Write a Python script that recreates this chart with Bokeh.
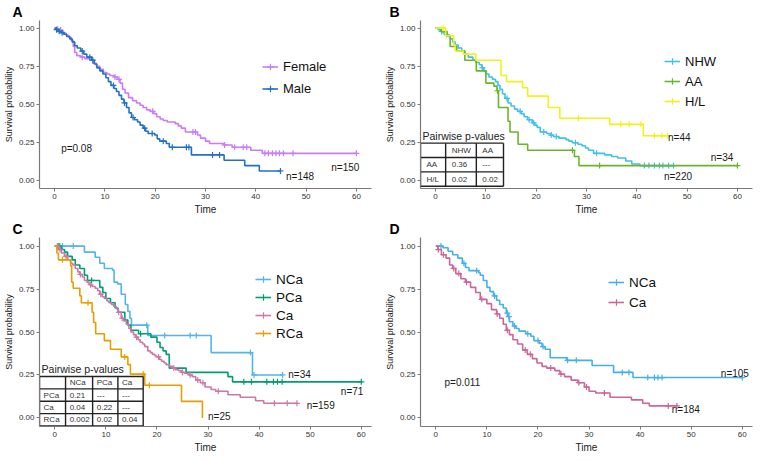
import numpy as np
from bokeh.plotting import figure
from bokeh.layouts import gridplot
from bokeh.models import Range1d, Legend, LegendItem, NumeralTickFormatter
from bokeh.embed import file_html
from bokeh.resources import INLINE
from bokeh.core.properties import value

FONT = "Liberation Sans"

# ---------------- data ----------------
x_ticks = [0, 10, 20, 30, 40, 50, 60]
y_ticks = [0.0, 0.25, 0.5, 0.75, 1.0]
x_title = "Time"
y_title = "Survival probability"
table_title = "Pairwise p-values"

# Panel A (sex)
a_names = ["Female", "Male"]
a_n = ["n=150", "n=148"]
a_p = "p=0.08"
a_female_t = [0, 0.4, 0.8, 1.3, 1.8, 2.3, 2.8, 3.3, 3.7, 4.0, 4.4, 5.2, 6.0, 7.0, 7.6, 8.3, 9.0, 9.7, 10.4, 11.0,
              11.8, 12.5, 13.0, 13.5, 14.0, 14.7, 15.5, 16.3, 17.0, 17.6, 18.3, 19.0, 19.7, 20.3, 21.0, 21.6, 22.4,
              24.0, 24.6, 25.2, 26.0, 28.4, 29.0, 30.0, 30.8, 33.6, 35.3, 39.0, 41.3]
a_female_s = [1.0, 0.993, 0.987, 0.98, 0.967, 0.953, 0.94, 0.92, 0.88, 0.84, 0.82, 0.81, 0.80, 0.79, 0.77, 0.75,
              0.73, 0.71, 0.70, 0.69, 0.68, 0.665, 0.64, 0.60, 0.575, 0.545, 0.525, 0.51, 0.495, 0.48, 0.465, 0.455,
              0.44, 0.42, 0.405, 0.395, 0.385, 0.375, 0.36, 0.345, 0.32, 0.30, 0.28, 0.26, 0.245, 0.235, 0.22, 0.20,
              0.18]
a_female_end = 60.0
a_female_cens = [0.6, 1.2, 5.5, 12.0, 12.8, 19.5, 27.5, 28.0, 33.8, 35.8, 37.5, 38.2, 41.8, 42.5, 43.3, 44.0,
                 44.7, 45.5, 47.4, 60.0]
a_male_t = [0, 0.3, 0.7, 1.2, 1.8, 2.4, 3.0, 3.5, 4.0, 4.5, 5.2, 5.8, 6.4, 7.4, 7.9, 8.4, 9.0, 9.6, 10.2, 10.7,
            11.2, 11.8, 12.3, 12.8, 13.3, 13.8, 14.3, 14.8, 15.3, 15.9, 16.5, 17.0, 17.6, 18.1, 18.6, 19.9, 20.4,
            20.9, 22.2, 22.8, 27.2, 33.7, 37.8, 40.7]
a_male_s = [1.0, 0.99, 0.98, 0.97, 0.96, 0.945, 0.93, 0.91, 0.885, 0.87, 0.85, 0.83, 0.81, 0.79, 0.765, 0.74, 0.72,
            0.70, 0.675, 0.65, 0.625, 0.605, 0.585, 0.56, 0.535, 0.51, 0.48, 0.445, 0.415, 0.40, 0.385, 0.365,
            0.345, 0.325, 0.31, 0.30, 0.275, 0.26, 0.245, 0.22, 0.17, 0.135, 0.10, 0.065]
a_male_end = 44.9
a_male_cens = [0.4, 0.9, 1.5, 5.5, 7.0, 7.6, 11.7, 13.9, 15.6, 17.9, 19.4, 21.6, 23.4, 26.2, 26.7, 31.4, 32.8, 44.9]

# Panel B (ethnicity)
b_names = ["NHW", "AA", "H/L"]
b_n = ["n=44", "n=34", "n=220"]
b_nhw_t = [0, 0.5, 1.0, 1.5, 2.0, 2.5, 2.9, 3.4, 3.9, 4.5, 5.2, 5.8, 6.5, 7.4, 8.0, 8.7, 9.2, 9.6, 10.1, 10.6,
           11.3, 11.9, 12.4, 12.8, 13.3, 13.8, 14.4, 15.0, 15.7, 16.3, 17.0, 17.6, 18.3, 19.2, 19.7, 20.2, 20.8,
           22.1, 22.8, 23.4, 24.5, 25.9, 26.5, 27.2, 28.3, 29.1, 29.8, 30.4, 31.4, 33.6, 35.0, 36.2, 37.8, 39.0,
           40.6]
b_nhw_s = [1.0, 0.99, 0.978, 0.968, 0.958, 0.945, 0.93, 0.91, 0.89, 0.87, 0.85, 0.83, 0.81, 0.79, 0.775, 0.76,
           0.74, 0.72, 0.70, 0.68, 0.665, 0.65, 0.625, 0.60, 0.57, 0.54, 0.51, 0.49, 0.47, 0.455, 0.44, 0.42, 0.40,
           0.38, 0.365, 0.35, 0.32, 0.31, 0.30, 0.29, 0.28, 0.27, 0.26, 0.25, 0.24, 0.23, 0.215, 0.20, 0.18, 0.17,
           0.16, 0.15, 0.13, 0.11, 0.10]
b_nhw_end = 47.3
b_nhw_cens = [1.2, 2.2, 9.3, 14.2, 16.8, 18.6, 19.5, 21.5, 23.0, 24.0, 27.8, 32.0, 41.5, 42.4, 43.5, 44.5, 45.2,
              46.3, 47.3]
b_aa_t = [0, 1.0, 2.3, 2.9, 4.2, 5.8, 8.1, 10.0, 11.6, 12.2, 12.5, 14.4, 14.8, 16.4, 18.3, 27.6, 28.5]
b_aa_s = [1.0, 0.978, 0.95, 0.88, 0.85, 0.79, 0.72, 0.64, 0.62, 0.59, 0.48, 0.39, 0.32, 0.24, 0.20, 0.16, 0.10]
b_aa_end = 60.0
b_aa_cens = [12.3, 27.2, 32.6, 60.0]
b_hl_t = [0, 2.0, 3.6, 3.9, 5.5, 8.0, 13.0, 14.1, 17.3, 18.3, 22.4, 24.7, 34.6, 41.3]
b_hl_s = [1.0, 0.95, 0.89, 0.85, 0.83, 0.79, 0.69, 0.65, 0.61, 0.555, 0.48, 0.41, 0.37, 0.295]
b_hl_end = 46.1
b_hl_cens = [1.5, 28.4, 36.8, 38.5, 40.8, 43.5, 45.0, 46.1]
b_tab_cols = ["", "NHW", "AA"]
b_tab_rows = [["AA", "0.36", "---"], ["H/L", "0.02", "0.02"]]

# Panel C (cancer groups)
c_names = ["NCa", "PCa", "Ca", "RCa"]
c_n = ["n=34", "n=71", "n=159", "n=25"]
c_nca_t = [0, 5.8, 7.9, 8.8, 9.7, 11.3, 11.6, 12.3, 13.0, 13.8, 14.3, 14.7, 15.0, 18.2, 30.6, 38.7]
c_nca_s = [1.0, 0.965, 0.935, 0.90, 0.87, 0.86, 0.79, 0.78, 0.72, 0.66, 0.62, 0.58, 0.54, 0.48, 0.38, 0.25]
c_nca_end = 44.6
c_nca_cens = [1.0, 1.5, 3.6, 18.0, 21.5, 26.5, 27.7, 38.3, 39.0, 44.6]
c_pca_t = [0, 1.3, 1.9, 2.5, 3.4, 4.0, 4.9, 5.8, 6.4, 8.8, 9.4, 10.0, 10.9, 11.8, 12.4, 13.7, 14.3, 14.9, 16.4,
           18.8, 20.0, 20.6, 21.2, 21.8, 22.4, 25.7, 33.9, 34.8]
c_pca_s = [1.0, 0.98, 0.965, 0.94, 0.92, 0.89, 0.87, 0.83, 0.80, 0.76, 0.73, 0.695, 0.67, 0.64, 0.615, 0.57, 0.54,
           0.51, 0.49, 0.47, 0.44, 0.41, 0.39, 0.37, 0.29, 0.265, 0.24, 0.21]
c_pca_end = 60.0
c_pca_cens = [0.8, 7.2, 16.8, 37.0, 38.5, 41.5, 42.8, 43.6, 44.5, 60.0]
c_ca_t = [0, 0.7, 1.3, 1.9, 2.5, 3.1, 3.5, 4.0, 4.5, 4.9, 5.4, 5.8, 6.3, 6.7, 7.3, 7.9, 8.4, 8.8, 9.3, 9.7, 10.2,
          10.6, 11.1, 11.5, 12.0, 12.4, 13.0, 13.5, 14.0, 14.5, 14.9, 15.4, 15.8, 16.3, 16.7, 17.2, 17.6, 18.2,
          18.7, 19.1, 19.6, 20.0, 20.5, 20.9, 21.4, 21.8, 22.5, 23.0, 23.6, 24.2, 24.8, 25.4, 26.2, 26.9, 27.6,
          28.5, 29.4, 30.6, 31.5, 33.9, 36.3, 39.3, 40.9]
c_ca_s = [1.0, 0.98, 0.96, 0.94, 0.92, 0.90, 0.89, 0.87, 0.85, 0.835, 0.82, 0.80, 0.79, 0.775, 0.765, 0.755, 0.74,
          0.72, 0.705, 0.695, 0.68, 0.67, 0.66, 0.65, 0.635, 0.615, 0.58, 0.565, 0.545, 0.52, 0.50, 0.485, 0.47,
          0.455, 0.44, 0.43, 0.415, 0.39, 0.38, 0.37, 0.36, 0.355, 0.34, 0.33, 0.32, 0.31, 0.30, 0.29, 0.28, 0.275,
          0.265, 0.26, 0.25, 0.24, 0.22, 0.205, 0.18, 0.165, 0.155, 0.135, 0.12, 0.10, 0.085]
c_ca_end = 47.5
c_ca_cens = [0.5, 1.0, 2.2, 5.0, 7.0, 9.0, 12.5, 13.2, 16.0, 20.3, 23.3, 25.0, 26.5, 28.0, 29.0, 32.0, 43.0, 45.5,
             47.4]
c_rca_t = [0, 0.4, 0.7, 3.1, 3.3, 3.6, 4.9, 5.2, 7.3, 7.6, 8.0, 9.7, 10.9, 13.0, 14.3, 14.8, 17.6, 24.8, 28.9]
c_rca_s = [1.0, 0.96, 0.92, 0.885, 0.79, 0.755, 0.71, 0.67, 0.615, 0.555, 0.49, 0.45, 0.40, 0.355, 0.31, 0.255,
           0.19, 0.096, 0.0]
c_rca_end = 28.9
c_rca_cens = [1.5, 6.5, 13.7, 17.3, 18.5]
c_tab_cols = ["", "NCa", "PCa", "Ca"]
c_tab_rows = [["PCa", "0.21", "---", "---"], ["Ca", "0.04", "0.22", "---"], ["RCa", "0.002", "0.02", "0.04"]]

# Panel D (NCa vs Ca)
d_names = ["NCa", "Ca"]
d_n = ["n=105", "n=184"]
d_p = "p=0.011"
d_nca_t = [0, 1.4, 2.4, 3.3, 4.3, 5.2, 5.8, 6.5, 8.4, 8.7, 9.3, 10.0, 10.6, 11.3, 11.9, 12.5, 13.2, 13.8, 14.1,
           14.4, 15.1, 15.7, 16.3, 17.6, 18.6, 19.2, 20.2, 20.8, 21.4, 22.4, 25.6, 30.6, 34.8, 38.6]
d_nca_s = [1.0, 0.99, 0.97, 0.95, 0.93, 0.90, 0.875, 0.857, 0.845, 0.83, 0.80, 0.76, 0.735, 0.71, 0.685, 0.66,
           0.64, 0.61, 0.59, 0.56, 0.535, 0.52, 0.505, 0.49, 0.475, 0.45, 0.435, 0.415, 0.40, 0.35, 0.335, 0.305,
           0.265, 0.235]
d_nca_end = 60.0
d_nca_cens = [1.0, 5.5, 8.0, 11.5, 14.0, 14.3, 15.4, 18.0, 20.0, 21.0, 25.8, 27.5, 36.5, 37.8, 41.5, 42.8, 43.5,
              44.3, 60.0]
d_ca_t = [0, 0.4, 1.1, 2.0, 2.7, 3.3, 3.9, 4.9, 5.8, 6.8, 7.8, 8.7, 10.0, 10.9, 11.9, 12.5, 13.2, 13.8, 14.4,
          15.1, 16.0, 17.0, 17.9, 18.9, 19.8, 20.8, 21.7, 23.3, 24.3, 25.2, 26.5, 27.8, 29.1, 30.0, 31.3, 34.1,
          38.3, 40.5, 41.8]
d_ca_s = [1.0, 0.98, 0.95, 0.93, 0.89, 0.87, 0.84, 0.81, 0.79, 0.76, 0.73, 0.69, 0.665, 0.63, 0.605, 0.58, 0.545,
          0.51, 0.485, 0.455, 0.43, 0.395, 0.37, 0.345, 0.32, 0.30, 0.29, 0.275, 0.255, 0.24, 0.22, 0.205, 0.18,
          0.155, 0.145, 0.12, 0.105, 0.085, 0.07]
d_ca_end = 47.2
d_ca_cens = [0.5, 1.5, 3.5, 4.5, 6.0, 9.0, 12.0, 14.0, 17.5, 18.5, 22.5, 24.5, 28.0, 29.5, 33.0, 45.5, 47.2]

# ---------------- styling / helpers ----------------
FW = 332
AX_COL = "#7a7a7a"


def make_fig(letter, fh, left, right, top, bottom, xr, letter_off):
    p = figure(frame_width=FW, frame_height=fh, x_range=Range1d(*xr), y_range=Range1d(-0.05, 1.05),
               output_backend="svg", toolbar_location=None, title=letter,
               min_border_left=left, min_border_right=right, min_border_top=top, min_border_bottom=bottom,
               x_axis_label=x_title, y_axis_label=y_title)
    p.outline_line_color = None
    p.grid.visible = False
    p.title.align = "left"
    p.title.offset = letter_off
    p.title.standoff = 2
    p.title.text_font = FONT
    p.title.text_font_size = "14px"
    p.title.text_font_style = "bold"
    p.title.text_color = "black"
    for ax in (p.xaxis[0], p.yaxis[0]):
        ax.axis_line_color = AX_COL
        ax.axis_line_width = 1.2
        ax.major_tick_line_color = AX_COL
        ax.major_tick_out = 3
        ax.major_tick_in = 0
        ax.minor_tick_line_color = None
        ax.major_label_text_font = FONT
        ax.major_label_text_font_size = "8px"
        ax.major_label_text_color = "#333333"
        ax.major_label_standoff = 2
        ax.axis_label_text_font = FONT
        ax.axis_label_text_font_style = "normal"
        ax.axis_label_text_color = "#222222"
        ax.axis_label_standoff = 2
    p.xaxis.ticker = x_ticks
    p.yaxis.ticker = y_ticks
    p.yaxis.formatter = NumeralTickFormatter(format="0.00")
    p.xaxis.axis_label_text_font_size = "10px"
    p.yaxis.axis_label_text_font_size = "9px"
    return p


def add_curve(p, T, S, end, cens, color):
    T = np.asarray(T, float)
    S = np.asarray(S, float)
    xs = list(T) + [end]
    ys = list(S) + [S[-1]]
    r = p.step(xs, ys, mode="after", line_color=color, line_width=1.6)
    c = np.asarray(cens, float)
    cy = S[np.searchsorted(T, c, side="right") - 1]
    m = p.scatter(c, cy, marker="cross", size=6, line_color=color, line_width=1.2)
    return [r, m]


def add_texts(p, xs, ys, texts, size="10px", align="left", baseline="middle", color="#1a1a1a"):
    p.text(x=xs, y=ys, text=texts, text_font=value(FONT), text_font_size=value(size),
           text_align=align, text_baseline=baseline, text_color=color)


def add_legend(p, names, rends, loc, gh, spacing, size="13px"):
    lg = Legend(items=[LegendItem(label=n, renderers=r) for n, r in zip(names, rends)],
                location=loc, border_line_color=None, background_fill_alpha=0,
                label_text_font=FONT, label_text_font_size=size, label_text_color="#111111",
                glyph_width=16, glyph_height=gh, label_height=gh, spacing=spacing,
                padding=0, margin=0, label_standoff=5)
    p.add_layout(lg)


def draw_table(p, x0, y_top, col_w, row_h, header, rows, pad):
    cells = [header] + rows
    xb = x0 + np.concatenate([[0], np.cumsum(col_w)])
    yb = y_top - row_h * np.arange(len(cells) + 1)
    xs, ys = [], []
    for y in yb:
        xs.append([xb[0], xb[-1]]); ys.append([y, y])
    for x in xb:
        xs.append([x, x]); ys.append([yb[0], yb[-1]])
    p.quad(left=xb[0], right=xb[-1], top=yb[0], bottom=yb[-1], fill_color="white", line_color=None)
    p.multi_line(xs=xs, ys=ys, line_color="#222222", line_width=1.4)
    tx, ty, tt = [], [], []
    for i, row in enumerate(cells):
        for j, t in enumerate(row):
            if t:
                tx.append(xb[j] + pad); ty.append((yb[i] + yb[i + 1]) / 2); tt.append(t)
    add_texts(p, tx, ty, tt, size="8px", color="#333333")
    add_texts(p, [x0 + 0.4], [y_top + 0.008], [table_title], size="10.5px", baseline="bottom", color="#222222")


# ---------------- Panel A ----------------
pA = make_fig("A", 168, 32, 10, 16, 28, (-3, 63), -27)
rA = [add_curve(pA, a_female_t, a_female_s, a_female_end, a_female_cens, "#C97CF5"),
      add_curve(pA, a_male_t, a_male_s, a_male_end, a_male_cens, "#2272C3")]
add_legend(pA, a_names, rA, (223, 90), 19, 3)
add_texts(pA, [55.0, 46.0], [0.087, 0.03], a_n)
add_texts(pA, [1.3], [0.21], [a_p])

# ---------------- Panel B ----------------
pB = make_fig("B", 168, 38, 6, 16, 28, (-3, 63), -31)
rB = [add_curve(pB, b_nhw_t, b_nhw_s, b_nhw_end, b_nhw_cens, "#41C0EB"),
      add_curve(pB, b_aa_t, b_aa_s, b_aa_end, b_aa_cens, "#6CB42C"),
      add_curve(pB, b_hl_t, b_hl_s, b_hl_end, b_hl_cens, "#F2F21A")]
add_legend(pB, b_names, rB, (244, 78), 18, 2)
add_texts(pB, [46.2, 54.7, 45.4], [0.287, 0.156, 0.03], b_n)
draw_table(pB, -3.0, 0.247, [5.0, 6.1, 5.4], 0.094, b_tab_cols, b_tab_rows, 1.2)

# ---------------- Panel C ----------------
pC = make_fig("C", 189, 32, 10, 16, 28, (-3, 62), -27)
rC = [add_curve(pC, c_nca_t, c_nca_s, c_nca_end, c_nca_cens, "#56B4E9"),
      add_curve(pC, c_pca_t, c_pca_s, c_pca_end, c_pca_cens, "#009E73"),
      add_curve(pC, c_ca_t, c_ca_s, c_ca_end, c_ca_cens, "#CC79A7"),
      add_curve(pC, c_rca_t, c_rca_s, c_rca_end, c_rca_cens, "#E69F00")]
add_legend(pC, c_names, rC, (216, 85), 16, 2, size="13.5px")
add_texts(pC, [45.7, 56.0, 49.3, 30.0], [0.25, 0.154, 0.075, 0.01], c_n)
draw_table(pC, -3.0, 0.241, [5.1, 5.3, 4.95, 4.95], 0.072, c_tab_cols, c_tab_rows, 0.8)

# ---------------- Panel D ----------------
pD = make_fig("D", 189, 38, 6, 16, 28, (-3, 62), -31)
rD = [add_curve(pD, d_nca_t, d_nca_s, d_nca_end, d_nca_cens, "#45B0EB"),
      add_curve(pD, d_ca_t, d_ca_s, d_ca_end, d_ca_cens, "#CC6699")]
add_legend(pD, d_names, rD, (188, 115), 18, 2, size="13.5px")
add_texts(pD, [55.8, 46.2], [0.26, 0.05], d_n)
add_texts(pD, [1.7], [0.205], [d_p])

grid = gridplot([[pA, pB], [pC, pD]], toolbar_location=None)
open("out.html", "w").write(file_html(grid, INLINE))
